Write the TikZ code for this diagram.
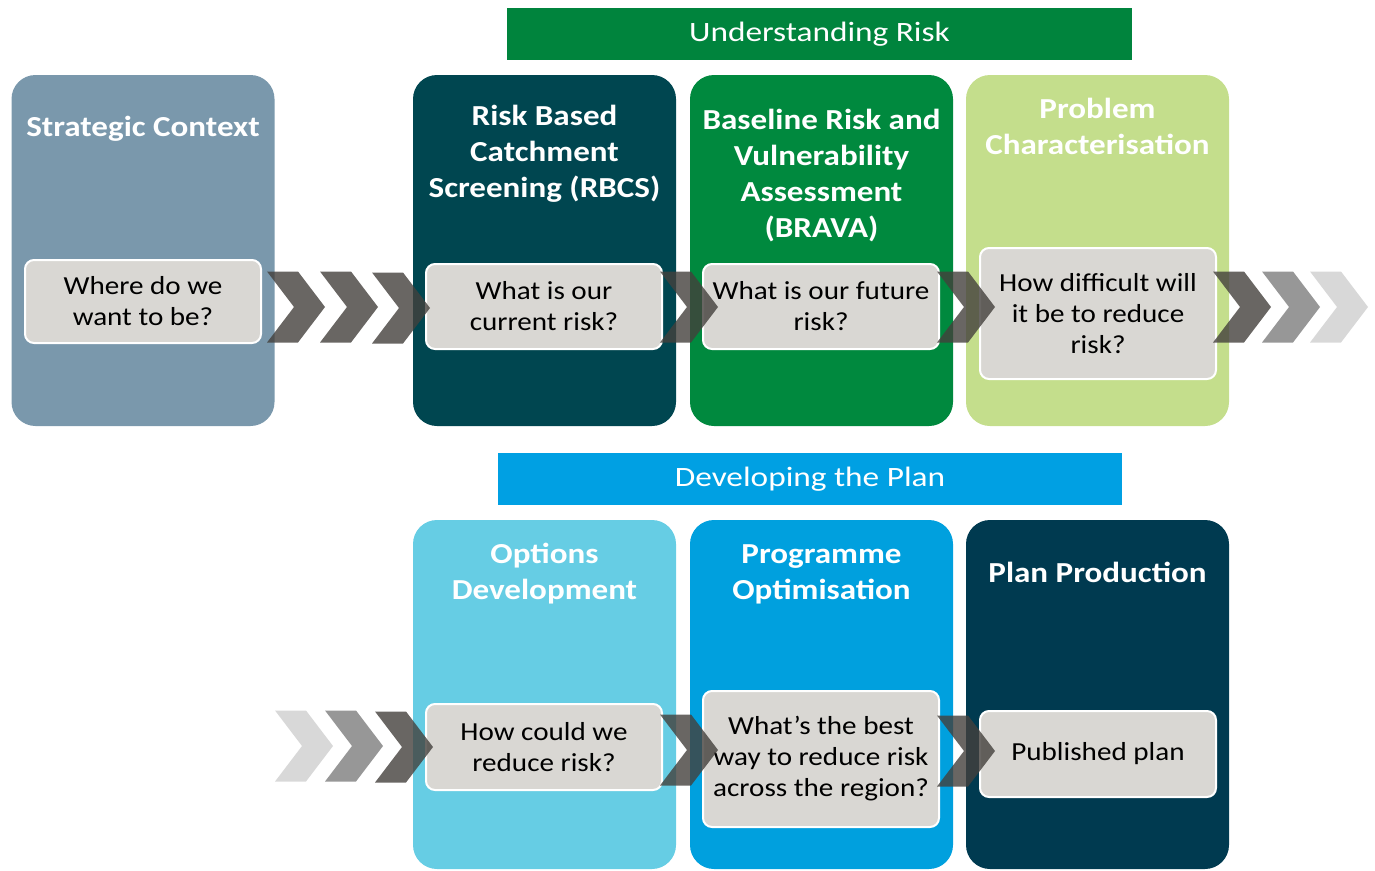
\documentclass[tikz,border=0pt]{standalone}
\usepackage{fontspec}
\setmainfont{Carlito}
\newfontfamily\titlefont[FakeStretch=1.14]{Carlito}
\newfontfamily\qfont[FakeStretch=1.12]{Carlito}
\newfontfamily\banfont[FakeStretch=1.19]{Carlito}
\definecolor{cStrat}{RGB}{122,152,172}
\definecolor{cRbcs}{RGB}{0,70,80}
\definecolor{cBrava}{RGB}{0,137,62}
\definecolor{cProb}{RGB}{196,222,140}
\definecolor{cOpt}{RGB}{102,205,228}
\definecolor{cProg}{RGB}{0,160,222}
\definecolor{cPlan}{RGB}{0,58,80}
\definecolor{cBanG}{RGB}{0,132,61}
\definecolor{cBanB}{RGB}{0,160,227}
\definecolor{cInner}{RGB}{217,215,211}
\definecolor{cChevD}{RGB}{68,64,60}
\definecolor{cChevM}{RGB}{140,140,140}
\definecolor{cChevL}{RGB}{212,212,212}
\tikzset{
  colbox/.style={rounded corners=24pt, minimum width=263pt, inner sep=0pt},
  banner/.style={minimum width=#1, minimum height=52pt, inner sep=0pt, text=white,
    font=\banfont\fontsize{28}{32}\selectfont},
  title/.style={text=white, align=center, font=\titlefont\bfseries\fontsize{29}{36}\selectfont, inner sep=0pt},
  qbox/.style={fill=cInner, draw=white, line width=2pt, rounded corners=9pt,
    minimum width=236pt, align=center, inner sep=0pt, font=\qfont\fontsize{26}{31}\selectfont},
  chevD/.style={fill=cChevD, fill opacity=0.8},
  chevM/.style={fill=cChevM, fill opacity=0.9},
  chevL/.style={fill=cChevL, fill opacity=0.9}
}
\newcommand\chevron[3]{\fill[#3] (#1,#2) ++(0,-35.5) -- ++(31,0) -- ++(27,35.5) -- ++(-27,35.5) -- ++(-31,0) -- ++(27,-35.5) -- cycle;}
\begin{document}
\begin{tikzpicture}[x=1pt,y=-1pt]
\useasboundingbox (0,0) rectangle (1375,870);
\clip (0,0) rectangle (1375,870);
% banners
\node[banner=625pt, fill=cBanG] (banU) at (819.5,34) {\raisebox{-2pt}{Understanding Risk}};
\node[banner=624pt, fill=cBanB] (banD) at (810,479) {\raisebox{-2pt}{Developing the Plan}};
% top columns
\node[colbox, fill=cStrat, minimum height=351pt] (strat) at (143,250.5) {};
\node[colbox, fill=cRbcs, minimum height=351pt] (rbcs) at (544.5,250.5) {};
\node[colbox, fill=cBrava, minimum height=351pt] (brava) at (821.5,250.5) {};
\node[colbox, fill=cProb, minimum height=351pt] (prob) at (1097.5,250.5) {};
% bottom columns
\node[colbox, fill=cOpt, minimum height=349pt] (opt) at (544.5,694.5) {};
\node[colbox, fill=cProg, minimum height=349pt] (prog) at (821.5,694.5) {};
\node[colbox, fill=cPlan, minimum height=349pt] (plan) at (1097.5,694.5) {};
% titles
\node[title] (tStrat) at (143,129) {Strategic Context};
\node[title] (tRbcs) at (544.5,154) {Risk Based\\Catchment\\Screening (RBCS)};
\node[title] (tBrava) at (821.5,176) {Baseline Risk and\\Vulnerability\\Assessment\\(BRAVA)};
\node[title] (tProb) at (1097.5,126) {Problem\\Characterisation};
\node[title] (tOpt) at (544.5,574) {Options\\Development};
\node[title] (tProg) at (821.5,574) {Programme\\Optimisation};
\node[title] (tPlan) at (1097.5,572) {Plan Production};
% question boxes
\node[qbox, minimum height=83pt] (qStrat) at (143,301.5) {Where do we\\want to be?};
\node[qbox, minimum height=85pt] (qRbcs) at (544,306.5) {What is our\\current risk?};
\node[qbox, minimum height=85pt] (qBrava) at (821,306.5) {What is our future\\risk?};
\node[qbox, minimum height=131pt] (qProb) at (1098,313.5) {How difficult will\\it be to reduce\\risk?};
\node[qbox, minimum height=86pt] (qOpt) at (544,747) {How could we\\reduce risk?};
\node[qbox, minimum height=136pt] (qProg) at (821,759) {What’s the best\\way to reduce risk\\across the region?};
\node[qbox, minimum height=86pt] (qPlan) at (1098,754) {Published plan};
% chevrons top
\chevron{267}{307}{chevD}
\chevron{320}{307}{chevD}
\chevron{372}{308}{chevD}
\chevron{660}{307}{chevD}
\chevron{937}{307}{chevD}
\chevron{1213}{307}{chevD}
\chevron{1262}{307}{chevM}
\chevron{1310}{307}{chevL}
% chevrons bottom
\chevron{275}{746}{chevL}
\chevron{325}{746}{chevM}
\chevron{375}{747}{chevD}
\chevron{660}{750}{chevD}
\chevron{937}{751}{chevD}
\end{tikzpicture}
\end{document}
